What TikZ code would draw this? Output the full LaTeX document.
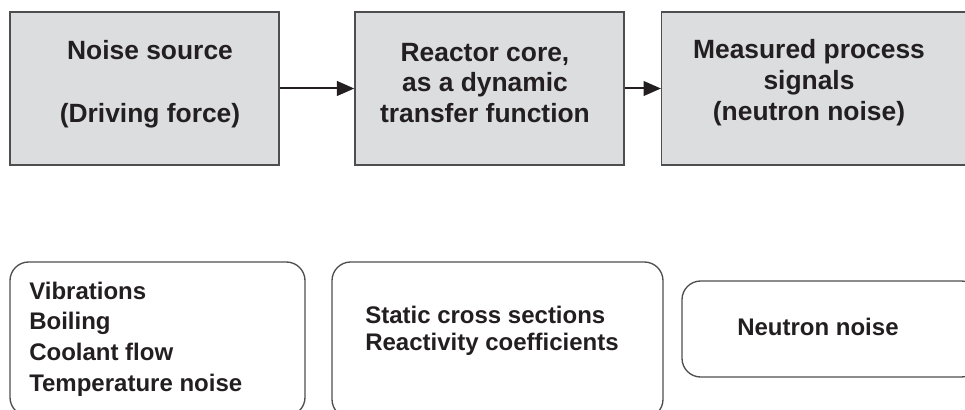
\documentclass[tikz,border=0pt]{standalone}
\usepackage{fontspec}
\setmainfont{Liberation Sans}
\usetikzlibrary{arrows.meta}
\definecolor{boxgray}{RGB}{220,221,223}
\definecolor{edgegray}{RGB}{78,78,80}
\definecolor{inkblack}{RGB}{35,31,32}
\tikzset{
  stage/.style={draw=edgegray, line width=1.1pt, fill=boxgray, inner sep=0pt},
  stagetext/.style={text=inkblack, font=\fontsize{19.8}{23.2}\selectfont\bfseries, align=center, inner sep=0pt},
  causes/.style={draw=edgegray, line width=1pt, rounded corners=14pt, inner sep=0pt},
  causetext/.style={text=inkblack, font=\fontsize{18}{23}\selectfont\bfseries, align=left, inner sep=0pt, anchor=west},
  flow/.style={draw=inkblack, line width=1.5pt, -{Triangle[length=13pt,width=11pt]}}
}
\begin{document}
\begin{tikzpicture}[x=0.75pt,y=-0.75pt]
    \useasboundingbox (0,0) rectangle (965,410);
    \clip (0,0) rectangle (965,410);
    % chain of stages
    \node [stage, minimum width=201.75pt, minimum height=114.75pt] (source) at (144.5,88.5) {};
    \node [stage, minimum width=201.75pt, minimum height=114.75pt] (core) at (489.5,88.5) {};
    \node [stage, minimum width=236pt, minimum height=114.75pt] (signals) at (819,88.5) {};
    \node [stagetext] (sourcetext) at (150,84) {Noise source\\[24pt](Driving force)};
    \node [stagetext] (coretext) at (485,83) {Reactor core,\\as a dynamic\\transfer function};
    \node [stagetext] (signalstext) at (809,83) {Measured process\\signals\\(neutron noise)};
    \draw [flow] (source) -- (core);
    \draw [flow] (core) -- (signals);
    % what goes in each stage
    \node [causes, minimum width=221.25pt, minimum height=115.5pt] (drivers) at (157.5,339) {};
    \node [causes, minimum width=248.25pt, minimum height=117pt] (params) at (497.5,340) {};
    \node [causes, minimum width=223.5pt, minimum height=72pt] (detect) at (831,329) {};
    \node [causetext] (driverstext) at (29,339) {Vibrations\\Boiling\\Coolant flow\\Temperature noise};
    \node [causetext, font=\fontsize{18}{20.3}\selectfont\bfseries] (paramstext) at (365,331) {Static cross sections\\Reactivity coefficients};
    \node [causetext] (detecttext) at (737,327) {Neutron noise};
\end{tikzpicture}
\end{document}
